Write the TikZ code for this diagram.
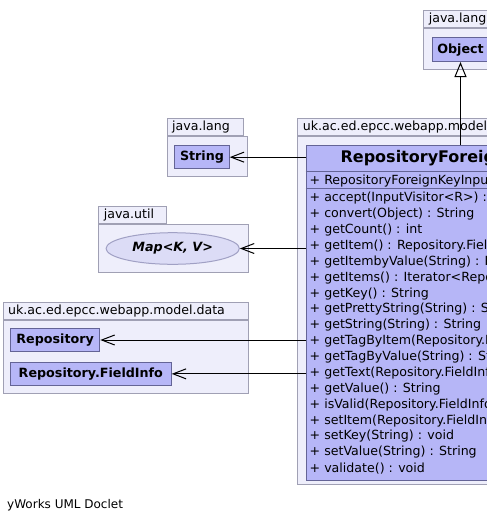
\documentclass[tikz,border=0pt]{standalone}
\usepackage{xcolor}
\usepackage{fontspec}
\setmainfont{DejaVu Sans}
\usetikzlibrary{arrows.meta,calc,shapes.geometric,positioning}
\definecolor{pkgfill}{RGB}{238,238,251}
\definecolor{pkgline}{RGB}{160,160,180}
\definecolor{clsfill}{RGB}{182,182,247}
\definecolor{clsline}{RGB}{100,100,150}
\definecolor{ifcfill}{RGB}{220,220,246}
\definecolor{ifcline}{RGB}{160,160,196}
\tikzset{
  pkgbody/.style={draw=pkgline, fill=pkgfill, line width=1pt, anchor=north west, inner sep=0pt},
  pkgtab/.style={draw=pkgline, fill=pkgfill, line width=1pt, anchor=south west,
    minimum height=17pt, inner xsep=5pt, inner ysep=0pt, text width=#1, align=left,
    font=\fontsize{12.6}{15}\selectfont},
  cls/.style={draw=clsline, fill=clsfill, line width=1pt, anchor=north west, inner sep=0pt,
    font=\bfseries\fontsize{12.7}{15}\selectfont},
  ifc/.style={ellipse, draw=ifcline, fill=ifcfill, line width=1pt, inner sep=0pt,
    font=\bfseries\itshape\fontsize{12.7}{15}\selectfont},
  member/.style={anchor=west, inner sep=0pt, font=\fontsize{12.6}{15}\selectfont},
  uses/.style={-{Straight Barb[length=13pt,width=10pt]}, line width=1pt},
  extends/.style={-{Triangle[open,length=15pt,width=12pt]}, line width=1pt}
}

\begin{document}
\begin{tikzpicture}[x=1pt,y=-1pt]
\useasboundingbox (0,0) rectangle (487,523);
\clip (0,0) rectangle (487,523);
\fill[white] (0,0) rectangle (487,523);

% Draw packages.
\node[pkgbody, minimum width=72.7pt, minimum height=40.7pt] (objpkg) at (423.3,28.3) {};
\node[pkgtab=66.6pt] (objtab) at (objpkg.north west) {java.lang};

\node[pkgbody, minimum width=80pt, minimum height=40pt] (strpkg) at (166.7,136) {};
\node[pkgtab=66.6pt] (strtab) at (strpkg.north west) {java.lang};

\node[pkgbody, minimum width=149.4pt, minimum height=48pt] (utilpkg) at (98.3,224.3) {};
\node[pkgtab=57.7pt] (utiltab) at (utilpkg.north west) {java.util};

\node[pkgbody, minimum width=245.6pt, minimum height=73.3pt] (datapkg) at (2.7,320) {};
\node[pkgtab=235.6pt] (datatab) at (datapkg.north west) {uk.ac.ed.epcc.webapp.model.data};

\node[pkgbody, minimum width=340pt, minimum height=348.3pt] (mainpkg) at (297.3,136) {};
\node[pkgtab=320pt] (maintab) at (mainpkg.north west) {uk.ac.ed.epcc.webapp.model};

% Draw classes.
\node[cls, minimum width=56.6pt, minimum height=23.7pt] (object) at (431.7,37.3) {Object};
\node[cls, minimum width=54.4pt, minimum height=23.3pt] (string) at (174.3,145) {String};
\node[ifc, minimum width=133.3pt, minimum height=31.6pt] (map) at (172.7,248.5) {Map<K, V>};
\node[cls, minimum width=89.3pt, minimum height=22.4pt] (repo) at (10,328.3) {Repository};
\node[cls, minimum width=160.7pt, minimum height=23.3pt] (field) at (10,361.7) {Repository.FieldInfo};

% Main class with compartments.
\node[cls, minimum width=316pt, minimum height=335pt] (rfki) at (305.7,145) {};
\draw[clsline, line width=1pt] ([yshift=-26pt]rfki.north west) -- ([yshift=-26pt]rfki.north east);
\draw[clsline, line width=1pt] ([yshift=-43.3pt]rfki.north west) -- ([yshift=-43.3pt]rfki.north east);
\node[font=\bfseries\fontsize{16}{19}\selectfont, inner sep=0pt] (rfkiname)
  at ([yshift=-13.3pt]rfki.north) {RepositoryForeignKeyInput};
\node[member] (ctor) at (309.5,180.7) {+ RepositoryForeignKeyInput(Repository, String)};

% Methods.
\foreach \m [count=\i from 0] in {
  accept(InputVisitor<R>) : R,
  convert(Object) : String,
  getCount() : int,
  getItem() : Repository.FieldInfo,
  getItembyValue(String) : Repository.FieldInfo,
  getItems() : Iterator<Repository.FieldInfo>,
  getKey() : String,
  getPrettyString(String) : String,
  getString(String) : String,
  getTagByItem(Repository.FieldInfo) : String,
  getTagByValue(String) : String,
  getText(Repository.FieldInfo) : String,
  getValue() : String,
  isValid(Repository.FieldInfo) : boolean,
  setItem(Repository.FieldInfo) : void,
  setKey(String) : void,
  setValue(String) : String,
  validate() : void}
  \node[member] (m\i) at (309.5,{198.3+15.88*\i}) {+ \m};

% Draw connectors.
\draw[extends] (rfki.north -| object.south) -- (object.south);
\draw[uses] (rfki.west |- string.east) -- (string.east);
\draw[uses] (rfki.west |- map.east) -- (map.east);
\draw[uses] (rfki.west |- repo.east) -- (repo.east);
\draw[uses] (rfki.west |- field.east) -- (field.east);

% Footer.
\node[member, font=\fontsize{12}{14}\selectfont] (credit) at (7,505) {yWorks UML Doclet};
\end{tikzpicture}
\end{document}
